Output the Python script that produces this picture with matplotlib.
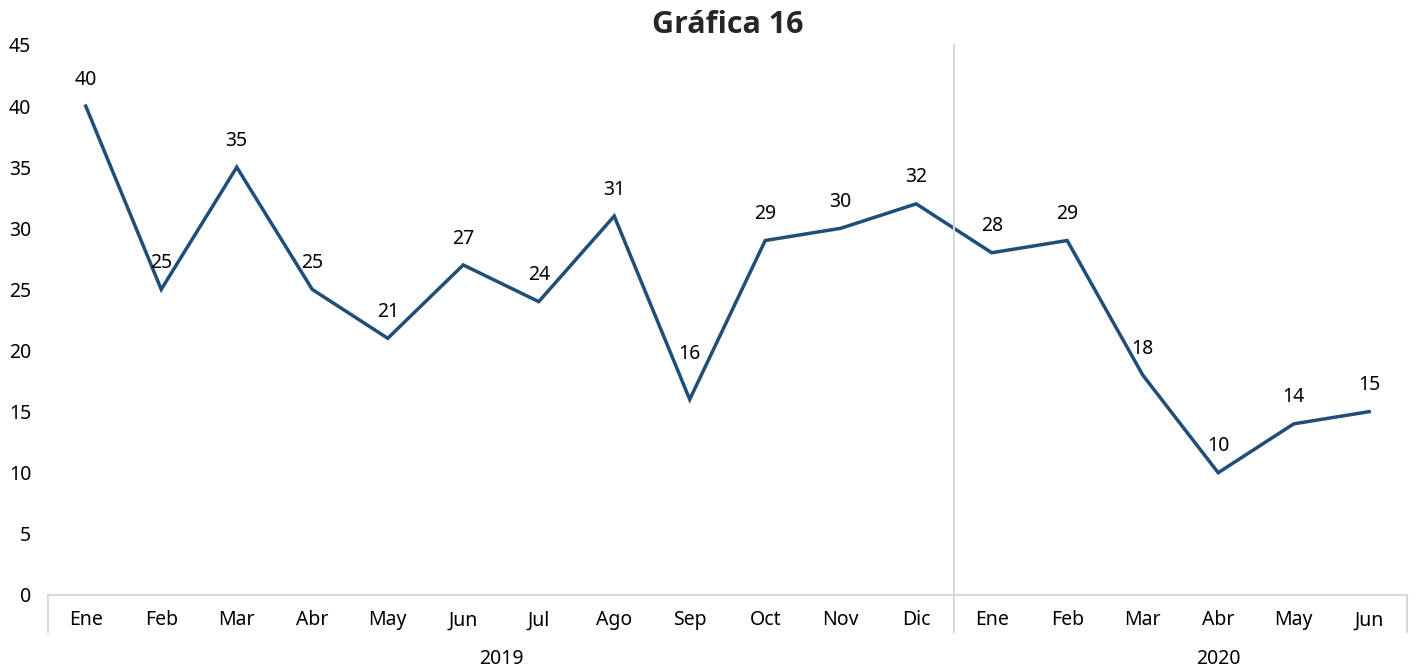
import numpy as np
import matplotlib.pyplot as plt
import matplotlib.transforms as mtransforms

plt.rcParams['font.family'] = ['Noto Sans', 'DejaVu Sans']

months = ["Ene", "Feb", "Mar", "Abr", "May", "Jun", "Jul", "Ago", "Sep", "Oct", "Nov", "Dic",
          "Ene", "Feb", "Mar", "Abr", "May", "Jun"]
values = [40, 25, 35, 25, 21, 27, 24, 31, 16, 29, 30, 32, 28, 29, 18, 10, 14, 15]
years = ["2019", "2020"]
year_pos = [5.5, 15.0]
split = 11.5

line_color = "#1F4E79"
grid_color = "#D9D9D9"

fig = plt.figure(figsize=(14.16, 6.71), dpi=100)
ax = fig.add_axes([0.0339, 0.1133, 0.9597, 0.8197])

x = np.arange(len(values))
ax.plot(x, values, color=line_color, lw=2.5, solid_joinstyle="miter")

# Sep label sits higher in the original, clear of the line
label_dy = {8: 33}
for xi, v in zip(x, values):
    ax.annotate(str(v), (xi, v), xytext=(0, label_dy.get(xi, 19)), textcoords="offset points",
                ha="center", va="center", fontsize=14, color="#000000")

ax.set_xlim(-0.5, len(values) - 0.5)
ax.set_ylim(0, 45)
ax.set_yticks(np.arange(0, 46, 5))
ax.set_xticks(x)
ax.set_xticklabels(months)
ax.tick_params(axis="y", length=0, pad=12, labelsize=14)
ax.tick_params(axis="x", length=0, pad=11, labelsize=14)

for s in ["top", "right", "left"]:
    ax.spines[s].set_visible(False)
ax.spines["bottom"].set_color(grid_color)
ax.spines["bottom"].set_linewidth(1.5)

trans = mtransforms.blended_transform_factory(ax.transData, ax.transAxes)
ax.plot([split, split], [-0.067, 1.0], transform=trans, color=grid_color, lw=1.5, clip_on=False)
for edge in [-0.5, len(values) - 0.5]:
    ax.plot([edge, edge], [-0.067, 0], transform=trans, color=grid_color, lw=1.5, clip_on=False)

for yr, xp in zip(years, year_pos):
    ax.text(xp, -0.117, yr, transform=trans, ha="center", va="center", fontsize=14)

fig.text(0.514, 0.962, "Gráfica 16", ha="center", va="center", fontsize=22, fontweight="bold",
         color="#262626", family=["Open Sans", "DejaVu Sans"])

fig.savefig("out.png", dpi=100)
